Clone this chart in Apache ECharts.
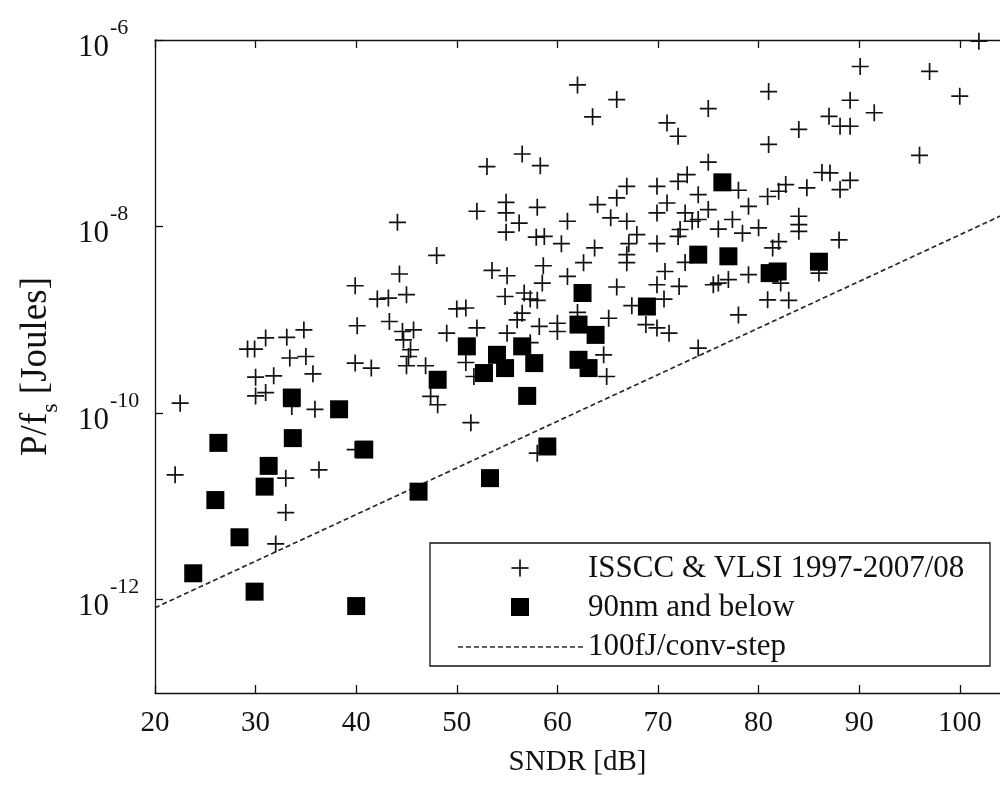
<!DOCTYPE html>
<html>
<head>
<meta charset="utf-8">
<script src="https://cdn.jsdelivr.net/npm/echarts@6/dist/echarts.min.js"></script>
<style>
html,body{margin:0;padding:0;background:#fff;}
#chart{width:1000px;height:786px;}
</style>
</head>
<body>
<div id="chart"></div>
<script>
// ISSCC & VLSI 1997-2007/08 designs
const isscc_sndr = [62.0,63.5,56.5,53.0,58.3,52.0,54.9,54.9,56.2,58.0,61.0,54.9,57.9,58.7,60.4,44.1,48.0,
65.9,81.0,75.0,70.9,72.0,81.0,84.0,75.0,72.9,72.0,78.0,66.9,69.9,65.9,64.0,74.0,70.9,79.0,80.9,82.0,82.7,
65.3,66.9,69.9,72.7,75.0,73.4,74.0,77.4,76.0,72.2,80.0,78.4,67.9,67.1,69.9,63.7,72.0,81.4,82.0,84.0,84.0,84.0,
90.1,97.0,100.0,101.9,89.1,91.5,87.0,88.1,89.1,96.0,86.3,87.1,89.1,88.1,84.8,88.0,86.0,
39.9,40.1,39.9,34.8,33.1,31.0,29.2,29.9,33.4,35.0,30.0,31.8,35.7,30.0,31.0,33.6,22.5,35.9,39.9,36.3,
44.3,53.5,55.0,58.6,58.5,61.0,62.6,42.1,43.2,45.0,54.8,56.7,57.3,58.0,50.0,50.9,56.5,56.0,43.3,44.6,45.7,
49.0,52.0,55.0,58.2,60.0,60.0,62.0,44.7,45.4,45.2,45.0,46.9,41.5,50.9,57.3,51.7,47.4,48.1,51.4,58.0,
66.9,66.9,72.7,70.7,65.9,69.9,72.1,75.5,76.0,77.0,79.0,82.2,67.4,70.6,80.9,83.0,78.0,65.1,68.8,69.9,71.1,
64.6,74.0,64.9,22.0,33.0,33.0,32.0];
const isscc_energy = [3.3e-7,1.5e-7,6.0e-8,4.4e-8,4.5e-8,1.46e-8,1.82e-8,1.4e-8,1.09e-8,1.61e-8,1.14e-8,8.7e-9,7.7e-9,7.85e-9,6.56e-9,1.11e-8,4.9e-9,
2.3e-7,2.8e-7,1.84e-7,1.29e-7,9.3e-8,7.6e-8,1.1e-7,4.9e-8,3.6e-8,3.05e-8,2.45e-8,2.7e-8,2.7e-8,2.03e-8,1.72e-8,2.2e-8,1.79e-8,1.65e-8,2.1e-8,2.39e-8,2.82e-8,
1.24e-8,1.14e-8,1.4e-8,1.4e-8,1.52e-8,1.14e-8,1.19e-8,1.19e-8,9.4e-9,9.3e-9,9.7e-9,8.5e-9,8.2e-9,6.56e-9,6.56e-9,5.9e-9,7.85e-9,5.9e-9,6.9e-9,1.29e-8,1.05e-8,8.9e-9,
5.2e-7,4.6e-7,2.5e-7,9.7e-7,2.26e-7,1.66e-7,1.52e-7,1.19e-7,1.19e-7,5.8e-8,3.8e-8,3.76e-8,3.13e-8,2.49e-8,2.6e-8,7.2e-9,3.17e-9,
2.32e-9,8.65e-10,3.44e-10,7.8e-10,6.5e-10,6.4e-10,4.86e-10,4.86e-10,3.9e-10,4.05e-10,2.43e-10,2.51e-10,2.64e-10,1.53e-10,1.66e-10,1.18e-10,1.28e-10,1.1e-10,4.07e-11,2.47e-11,
3.1e-9,3.39e-9,2.97e-9,3.8e-9,2.48e-9,2.92e-9,4.1e-9,1.67e-9,1.71e-9,1.86e-9,1.78e-9,1.94e-9,1.67e-9,1.62e-9,1.31e-9,1.34e-9,1.18e-9,1.0e-9,9.6e-10,7.5e-10,7.8e-10,
7.2e-10,8.2e-10,7.2e-10,8.5e-10,9.2e-10,7.5e-10,1.2e-9,6.1e-10,4.78e-10,4.05e-10,3.22e-10,3.22e-10,3.04e-10,3.49e-10,5.7e-10,2.47e-10,1.51e-10,1.23e-10,7.9e-11,3.72e-11,
5.0e-9,4.1e-9,4.13e-9,3.3e-9,2.25e-9,2.38e-9,2.28e-9,2.38e-9,2.48e-9,2.7e-9,3.05e-9,2.48e-9,1.42e-9,1.67e-9,1.64e-9,1.62e-9,1.13e-9,1.04e-9,8.9e-10,8.2e-10,7.2e-10,
4.22e-10,4.98e-10,2.47e-10,2.18e-11,2.01e-11,8.6e-12,3.96e-12];

// 90nm and below
const nm90_sndr = [76.4,74.0,77.0,81.1,81.9,86.0,62.5,62.1,63.8,63.1,62.1,68.9,51.0,54.0,54.8,56.5,57.7,52.7,48.1,57.0,
59.0,53.3,46.2,40.8,33.6,38.3,33.7,26.3,31.3,30.9,26.0,28.4,23.8,29.9,40.0];
const nm90_energy = [2.98e-8,5.0e-9,4.8e-9,3.17e-9,3.3e-9,4.2e-9,1.94e-9,8.9e-10,6.9e-10,3.04e-10,3.73e-10,1.39e-9,5.2e-10,4.22e-10,3.04e-10,5.2e-10,3.44e-10,2.69e-10,2.28e-10,1.53e-10,
4.39e-11,2.01e-11,1.44e-11,4.07e-11,1.47e-10,1.1e-10,5.4e-11,4.8e-11,2.72e-11,1.63e-11,1.17e-11,4.67e-12,1.92e-12,1.22e-12,8.55e-13];

// 100fJ/conv-step figure-of-merit line (end points)
const fom_sndr = [20, 105];
const fom_energy = [8.2e-13, 1.45e-8];

const xTicks = [20,30,40,50,60,70,80,90,100];
const yTicks = [1e-12,1e-10,1e-8,1e-6];
const legendNames = ['ISSCC & VLSI 1997-2007/08','90nm and below','100fJ/conv-step'];

const FONT = "'Liberation Serif','Times New Roman',serif";
const CROSS = 'path://M0,9H20V11H0Z M9,0H11V20H9Z';

const zip = (a,b) => a.map((v,i)=>[v,b[i]]);

const chart = echarts.init(document.getElementById('chart'), null, {renderer:'canvas'});

chart.setOption({
  backgroundColor:'#fff',
  animation:false,
  grid:{left:155, top:40, right:0, height:653, containLabel:false},
  xAxis:[{
    type:'value', min:20, max:104, interval:4,
    position:'bottom',
    axisLine:{show:true, onZero:false, lineStyle:{color:'#111', width:1.3}},
    axisTick:{show:true, inside:true, length:8, customValues:xTicks, lineStyle:{color:'#111', width:1.3}},
    axisLabel:{show:true, customValues:xTicks, margin:16, color:'#111', fontFamily:FONT, fontSize:29},
    splitLine:{show:false},
    name:'SNDR [dB]', nameLocation:'middle', nameGap:55,
    nameTextStyle:{color:'#111', fontFamily:FONT, fontSize:29}
  },{
    type:'value', min:20, max:104, interval:4,
    position:'top',
    axisLine:{show:true, onZero:false, lineStyle:{color:'#111', width:1.3}},
    axisTick:{show:true, inside:true, length:8, customValues:xTicks, lineStyle:{color:'#111', width:1.3}},
    axisLabel:{show:false},
    splitLine:{show:false}
  }],
  yAxis:[{
    type:'log', logBase:10, min:1e-13, max:1e-6,
    axisLine:{show:true, onZero:false, lineStyle:{color:'#111', width:1.3}},
    axisTick:{show:true, inside:true, length:8, customValues:yTicks, lineStyle:{color:'#111', width:1.3}},
    axisLabel:{
      show:true, customValues:yTicks, align:'left', margin:77, color:'#111',
      padding:[16,0,0,0],
      formatter:function(v){
        const e = Math.round(Math.log10(v));
        return '{b|10}{s|' + e + '}';
      },
      rich:{
        b:{fontFamily:FONT, fontSize:31, color:'#111', verticalAlign:'bottom', lineHeight:30},
        s:{fontFamily:FONT, fontSize:22, color:'#111', verticalAlign:'bottom', lineHeight:22, padding:[0,0,24,1]}
      }
    },
    splitLine:{show:false},
    name:'{a|P/f}{sub|s}{a| [Joules]}', nameLocation:'middle', nameGap:100,
    nameTextStyle:{
      rich:{
        a:{fontFamily:FONT, fontSize:37, color:'#111', verticalAlign:'bottom', lineHeight:44},
        sub:{fontFamily:FONT, fontSize:24, color:'#111', verticalAlign:'bottom', lineHeight:24, padding:[0,0,-8,0]}
      }
    }
  }],
  series:[{
    name:legendNames[2], type:'line', xAxisIndex:0, yAxisIndex:0, clip:true,
    data:zip(fom_sndr, fom_energy), showSymbol:false, symbol:'none',
    lineStyle:{color:'#2a2a2a', width:1.7, type:[5,3]}, z:1
  },{
    name:legendNames[0], type:'scatter', xAxisIndex:0, yAxisIndex:0,
    data:zip(isscc_sndr, isscc_energy),
    symbol:CROSS, symbolSize:17,
    itemStyle:{color:'#111', opacity:1}, z:2
  },{
    name:legendNames[1], type:'scatter', xAxisIndex:0, yAxisIndex:0,
    data:zip(nm90_sndr, nm90_energy),
    symbol:'rect', symbolSize:18,
    itemStyle:{color:'#000', opacity:1}, z:3
  }],
  graphic:[{
    type:'group', x:430, y:543, z:100,
    children:[
      {type:'rect', shape:{x:0, y:0, width:560, height:123}, style:{fill:'#fff', stroke:'#111', lineWidth:1.3}},
      {type:'line', shape:{x1:81.5, y1:25, x2:98.5, y2:25}, style:{stroke:'#111', lineWidth:1.7}},
      {type:'line', shape:{x1:90, y1:16.5, x2:90, y2:33.5}, style:{stroke:'#111', lineWidth:1.7}},
      {type:'text', x:158, y:26, style:{text:legendNames[0], font:'31px ' + FONT, fill:'#111', verticalAlign:'middle'}},
      {type:'rect', shape:{x:81, y:55, width:18, height:18}, style:{fill:'#000'}},
      {type:'text', x:158, y:65, style:{text:legendNames[1], font:'31px ' + FONT, fill:'#111', verticalAlign:'middle'}},
      {type:'line', shape:{x1:28, y1:104, x2:155, y2:104}, style:{stroke:'#2a2a2a', lineWidth:1.7, lineDash:[5,3]}},
      {type:'text', x:158, y:104, style:{text:legendNames[2], font:'31px ' + FONT, fill:'#111', verticalAlign:'middle'}}
    ]
  }]
});
</script>
</body>
</html>
